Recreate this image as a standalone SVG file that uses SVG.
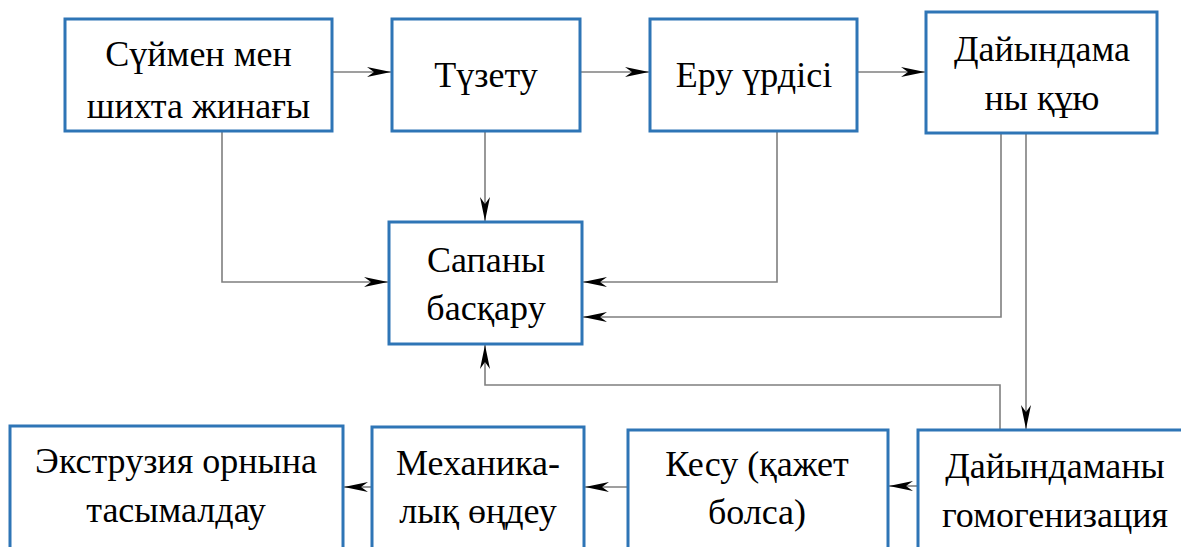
<svg xmlns="http://www.w3.org/2000/svg" width="1181" height="547" viewBox="0 0 1181 547">
  <style>
    .box { fill: #ffffff; stroke: #2e75b6; stroke-width: 3; }
    .lbl { font-family: 'Liberation Serif', 'Times New Roman', serif; font-size: 36px; fill: #000000; text-anchor: middle; }
    .wire { fill: none; stroke: #7f7f7f; stroke-width: 1.6; }
  </style>
  <defs>
    <!-- narrow notched arrowhead, sized in user units -->
    <marker id="arrow" markerUnits="userSpaceOnUse" markerWidth="26" markerHeight="12" refX="24" refY="5" orient="auto">
      <path d="M0,0 L24,5 L0,10 L7,5 Z" fill="#000000"/>
    </marker>
  </defs>
  <rect width="1181" height="547" fill="#ffffff"/>

  <g id="connectors">
    <path class="wire" d="M332,72 H391" marker-end="url(#arrow)"/>
    <path class="wire" d="M580,72 H649" marker-end="url(#arrow)"/>
    <path class="wire" d="M857,72 H925" marker-end="url(#arrow)"/>
    <path class="wire" d="M222,131 V282 H388" marker-end="url(#arrow)"/>
    <path class="wire" d="M485,131 V221" marker-end="url(#arrow)"/>
    <path class="wire" d="M777,131 V282 H583" marker-end="url(#arrow)"/>
    <path class="wire" d="M1001,133 V317 H583" marker-end="url(#arrow)"/>
    <path class="wire" d="M1026,133 V429" marker-end="url(#arrow)"/>
    <path class="wire" d="M1000,430 V385 H485 V345" marker-end="url(#arrow)"/>
    <path class="wire" d="M918,486 H889" marker-end="url(#arrow)"/>
    <path class="wire" d="M628,487 H585" marker-end="url(#arrow)"/>
    <path class="wire" d="M372,487 H344" marker-end="url(#arrow)"/>
  </g>

  <g id="node-collect">
    <rect class="box" x="65" y="19" width="267" height="112"/>
    <text class="lbl" x="198.5" y="66">Сүймен мен</text>
    <text class="lbl" x="198.5" y="118">шихта жинағы</text>
  </g>
  <g id="node-adjust">
    <rect class="box" x="392" y="19" width="188" height="112"/>
    <text class="lbl" x="486" y="87">Түзету</text>
  </g>
  <g id="node-melt">
    <rect class="box" x="650" y="19" width="207" height="112"/>
    <text class="lbl" x="754" y="87">Еру үрдісі</text>
  </g>
  <g id="node-cast">
    <rect class="box" x="926" y="12" width="231" height="121"/>
    <text class="lbl" x="1042" y="61">Дайындама</text>
    <text class="lbl" x="1042" y="110">ны құю</text>
  </g>
  <g id="node-quality">
    <rect class="box" x="389" y="222" width="193" height="122"/>
    <text class="lbl" x="486" y="272">Сапаны</text>
    <text class="lbl" x="486" y="320">басқару</text>
  </g>
  <g id="node-homogenize">
    <rect class="box" x="918" y="430" width="280" height="130"/>
    <text class="lbl" x="1055" y="478">Дайындаманы</text>
    <text class="lbl" x="1055" y="527">гомогенизация</text>
  </g>
  <g id="node-cut">
    <rect class="box" x="628" y="430" width="260" height="130"/>
    <text class="lbl" x="757" y="476">Кесу (қажет</text>
    <text class="lbl" x="757" y="524">болса)</text>
  </g>
  <g id="node-machining">
    <rect class="box" x="372" y="427" width="212" height="133"/>
    <text class="lbl" x="478" y="475">Механика-</text>
    <text class="lbl" x="478" y="523">лық өңдеу</text>
  </g>
  <g id="node-transport">
    <rect class="box" x="10" y="426" width="333" height="134"/>
    <text class="lbl" x="176" y="473">Экструзия орнына</text>
    <text class="lbl" x="176" y="522">тасымалдау</text>
  </g>
</svg>
